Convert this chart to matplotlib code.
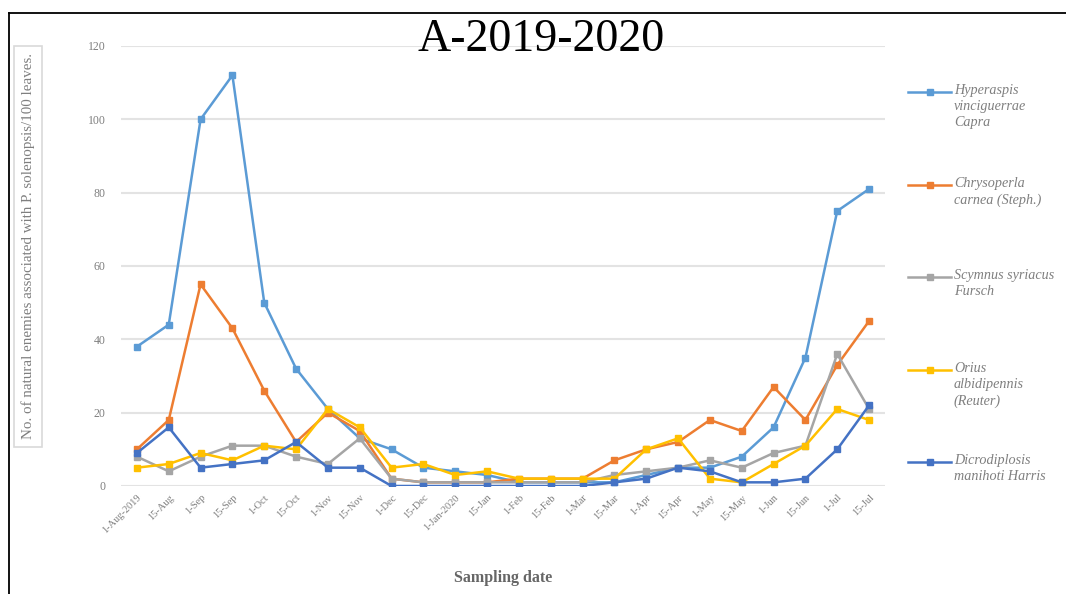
import matplotlib
matplotlib.use("Agg")
import matplotlib.pyplot as plt
from matplotlib.lines import Line2D

dates = ["1-Aug-2019", "15-Aug", "1-Sep", "15-Sep", "1-Oct", "15-Oct", "1-Nov", "15-Nov",
         "1-Dec", "15-Dec", "1-Jan-2020", "15-Jan", "1-Feb", "15-Feb", "1-Mar", "15-Mar",
         "1-Apr", "15-Apr", "1-May", "15-May", "1-Jun", "15-Jun", "1-Jul", "15-Jul"]

hyperaspis = [38, 44, 100, 112, 50, 32, 21, 13, 10, 5, 4, 3, 1, 1, 1, 1,
              3, 5, 5, 8, 16, 35, 75, 81]
chrysoperla = [10, 18, 55, 43, 26, 12, 20, 15, 2, 1, 1, 1, 2, 2, 2, 7,
               10, 12, 18, 15, 27, 18, 33, 45]
scymnus = [8, 4, 8, 11, 11, 8, 6, 13, 2, 1, 1, 1, 1, 1, 1, 3,
           4, 5, 7, 5, 9, 11, 36, 21]
orius = [5, 6, 9, 7, 11, 10, 21, 16, 5, 6, 3, 4, 2, 2, 2, 2,
         10, 13, 2, 1, 6, 11, 21, 18]
dicrodiplosis = [9, 16, 5, 6, 7, 12, 5, 5, 0, 0, 0, 0, 0, 0, 0, 1,
                 2, 5, 4, 1, 1, 2, 10, 22]

series_labels = ["Hyperaspis\nvinciguerrae\nCapra",
                 "Chrysoperla\ncarnea (Steph.)",
                 "Scymnus syriacus\nFursch",
                 "Orius\nalbidipennis\n(Reuter)",
                 "Dicrodiplosis\nmanihoti Harris"]
series_values = [hyperaspis, chrysoperla, scymnus, orius, dicrodiplosis]
colors = ["#5B9BD5", "#ED7D31", "#A5A5A5", "#FFC000", "#4472C4"]
yticks = [0, 20, 40, 60, 80, 100, 120]

W, H = 1066, 594
fig = plt.figure(figsize=(W / 100, H / 100), dpi=100)
fig.patch.set_facecolor("white")

serif = ["Liberation Serif", "DejaVu Serif"]

ax = fig.add_axes([121 / W, 1 - 486 / H, (885 - 121) / W, (486 - 46) / H])
x = list(range(len(dates)))
for vals, col in zip(series_values, colors):
    ax.plot(x, vals, color=col, lw=1.8, marker="s", ms=4.8, mec=col, mfc=col, zorder=3)

ax.set_xlim(-0.5, len(dates) - 0.5)
ax.set_ylim(0, 120)
ax.set_yticks(yticks)
ax.set_yticklabels([str(v) for v in yticks], fontsize=8.5, color="#7F7F7F", family=serif)
ax.set_xticks(x)
ax.set_xticklabels(dates, rotation=45, ha="right", rotation_mode="anchor",
                   fontsize=7.5, color="#7F7F7F", family=serif)
ax.tick_params(axis="both", length=0, pad=11)
ax.tick_params(axis="x", pad=5)
ax.grid(axis="y", color="#E3E3E3", lw=1.5)
ax.set_axisbelow(True)
for s in ax.spines.values():
    s.set_visible(False)

ax.set_xlabel("Sampling date", fontsize=11.5, fontweight="bold", color="#666666",
              family=serif, labelpad=25)

# y-axis label in a box
fig.text(28 / W, 1 - 246 / H,
         "No. of natural enemies associated with P. solenopsis/100 leaves.",
         rotation=90, ha="center", va="center", fontsize=10.8, color="#7F7F7F",
         family=serif,
         bbox=dict(boxstyle="square,pad=0.5", fc="white", ec="#D9D9D9", lw=1.2))

# title
fig.text(541 / W, 1 - 40 / H, "A-2019-2020", ha="center", va="center",
         fontsize=33, color="black", family=serif)

# frame lines
fig.add_artist(Line2D([9 / W, 1], [1 - 13 / H, 1 - 13 / H], color="black", lw=1.3))
fig.add_artist(Line2D([9 / W, 9 / W], [0, 1 - 13 / H], color="black", lw=1.3))

# legend
leg_y = [92, 185, 277, 370, 462]
for lab, col, yy in zip(series_labels, colors, leg_y):
    yf = 1 - yy / H
    fig.add_artist(Line2D([908 / W, 951 / W], [yf, yf], color=col, lw=1.8))
    fig.add_artist(Line2D([930 / W], [yf], color=col, marker="s", ms=4.8))
    fig.text(954 / W, yf + 8 / H, lab, ha="left", va="top", fontsize=10.2,
             style="italic", color="#7F7F7F", family=serif, linespacing=1.3)

fig.savefig("out.png", dpi=100)
